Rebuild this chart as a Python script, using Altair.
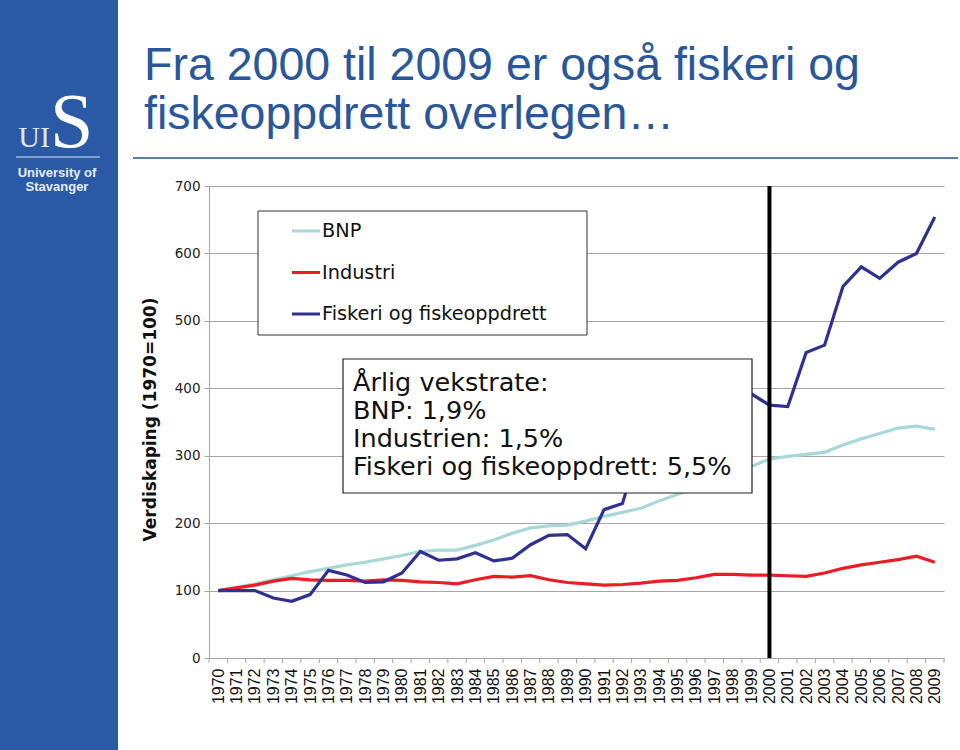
import altair as alt
import pandas as pd

# ---------------- data ----------------
years = list(range(1970, 2010))
bnp = [100, 105, 110, 116, 122, 128, 133, 138, 142, 147,
       152, 158, 160, 160, 167, 175, 185, 193, 196, 197,
       203, 210, 216, 222, 233, 243, 253, 263, 273, 284,
       295, 299, 302, 305, 316, 325, 333, 341, 344, 339]
industri = [100, 104, 108, 114, 118, 116, 115, 115, 114, 116,
            115, 113, 112, 110, 116, 121, 120, 122, 116, 112,
            110, 108, 109, 111, 114, 115, 119, 124, 124, 123,
            123, 122, 121, 126, 133, 138, 142, 146, 151, 142]
fiskeri = [100, 100, 100, 89, 84, 94, 130, 123, 112, 113,
           126, 158, 145, 147, 156, 144, 148, 168, 182, 183,
           162, 220, 229, 320, 350, 365, 380, 410, 420, 392,
           375, 373, 453, 464, 551, 580, 563, 587, 600, 654]
series_names = ["BNP", "Industri", "Fiskeri og fiskeoppdrett"]
series_colors = ["#a8d9d9", "#ec1c24", "#2e3192"]
y_ticks = [0, 100, 200, 300, 400, 500, 600, 700]
marker_year = [2000]
title_lines = ["Fra 2000 til 2009 er også fiskeri og", "fiskeoppdrett overlegen…"]
note_lines = ["Årlig vekstrate:", "BNP: 1,9%", "Industrien: 1,5%",
              "Fiskeri og fiskeoppdrett: 5,5%"]
y_title = "Verdiskaping (1970=100)"
logo_lines = ["University of", "Stavanger"]

# ---------------- layout helpers ----------------
W, H = 735, 472
L, T = 209, 186


def px(x):
    return x - L


def py(y):
    return y - T


frames = []
for name, vals in zip(series_names, [bnp, industri, fiskeri]):
    frames.append(pd.DataFrame({"year": years, "value": vals, "series": name}))
df = pd.concat(frames, ignore_index=True)

bounds = pd.DataFrame({"b": [y - 0.5 for y in years] + [years[-1] + 0.5]})

xs = alt.Scale(domain=[years[0] - 0.5, years[-1] + 0.5], nice=False, zero=False)
ys = alt.Scale(domain=[0, 700], nice=False)
cs = alt.Scale(domain=series_names, range=series_colors)

one = pd.DataFrame({"a": [0]})
GRAY = "#a6a6a6"

# axes carrier (grid + axes)
axes = alt.Chart(df).mark_line(opacity=0).encode(
    x=alt.X("year:Q", scale=xs,
            axis=alt.Axis(values=years, format="d", labelAngle=270, ticks=False,
                          grid=False, domainColor=GRAY, labelFont="Liberation Sans",
                          labelFontSize=16, labelColor="#111", labelPadding=10,
                          title=None, labelFlush=False, labelOverlap=False,
                          labelAlign="right", labelBaseline="middle")),
    y=alt.Y("value:Q", scale=ys,
            axis=alt.Axis(values=y_ticks, grid=True, gridColor=GRAY, tickColor=GRAY,
                          tickSize=5, domainColor=GRAY, labelFont="DejaVu Sans",
                          labelFontSize=13.5, labelColor="#222", labelPadding=4,
                          title=y_title, titleFont="DejaVu Sans", titleFontSize=17,
                          titleFontWeight="bold", titleColor="#111", titleX=-59,
                          titleY=H / 2 - 3, titleAlign="center", titleBaseline="middle",
                          titleAngle=270)),
)

ticks = alt.Chart(bounds).mark_rule(color=GRAY, strokeWidth=1).encode(
    x=alt.X("b:Q", scale=xs, axis=None), y=alt.value(H), y2=alt.value(H + 5))

lines = []
for name in series_names:
    lines.append(
        alt.Chart(df).transform_filter(alt.datum.series == name)
        .mark_line(strokeWidth=3.2)
        .encode(x=alt.X("year:Q", scale=xs, axis=None),
                y=alt.Y("value:Q", scale=ys, axis=None),
                color=alt.Color("series:N", scale=cs, legend=None)))

vline = alt.Chart(pd.DataFrame({"year": marker_year})).mark_rule(
    color="black", strokeWidth=4).encode(
    x=alt.X("year:Q", scale=xs, axis=None), y=alt.value(0), y2=alt.value(H))

# legend box
leg_box = alt.Chart(one).mark_rect(fill="white", stroke="#333", strokeWidth=1).encode(
    x=alt.value(px(258)), x2=alt.value(px(587)), y=alt.value(py(211)), y2=alt.value(py(335)))
leg_layers = []
for i, (name, col) in enumerate(zip(series_names, series_colors)):
    yy = py(231) + 41.5 * i
    leg_layers.append(alt.Chart(one).mark_rule(color=col, strokeWidth=3).encode(
        x=alt.value(px(292)), x2=alt.value(px(320)), y=alt.value(yy)))
    leg_layers.append(alt.Chart(pd.DataFrame({"t": [name]})).mark_text(
        align="left", baseline="middle", font="DejaVu Sans", fontSize=19.3,
        color="#111").encode(x=alt.value(px(322)), y=alt.value(yy), text="t:N"))

# note box
note_box = alt.Chart(one).mark_rect(fill="white", stroke="#222", strokeWidth=1.2).encode(
    x=alt.value(px(343)), x2=alt.value(px(752)), y=alt.value(py(359)), y2=alt.value(py(493)))
note_text = alt.Chart(one).mark_text(
    align="left", baseline="alphabetic", font="DejaVu Sans", fontSize=25.5,
    lineHeight=28, color="#111", text=note_lines).encode(
    x=alt.value(px(353)), y=alt.value(py(391)))

# slide decorations
sidebar = alt.Chart(one).mark_rect(color="#2a59a6").encode(
    x=alt.value(px(0)), x2=alt.value(px(118)), y=alt.value(py(0)), y2=alt.value(py(750)))
logo_ui = alt.Chart(pd.DataFrame({"t": ["UI"]})).mark_text(
    align="right", baseline="alphabetic", font="Liberation Serif", fontSize=30,
    color="#dfe8f5").encode(x=alt.value(px(50)), y=alt.value(py(147)), text="t:N")
logo_s = alt.Chart(pd.DataFrame({"t": ["S"]})).mark_text(
    align="left", baseline="alphabetic", font="Liberation Serif", fontSize=78,
    color="white").encode(x=alt.value(px(50)), y=alt.value(py(147)), text="t:N")
logo_rule = alt.Chart(one).mark_rule(color="#9db9de", strokeWidth=1.5).encode(
    x=alt.value(px(16)), x2=alt.value(px(100)), y=alt.value(py(157)))
logo_text = alt.Chart(one).mark_text(
    align="center", baseline="alphabetic", font="Liberation Sans", fontSize=13,
    fontWeight="bold", lineHeight=14, color="#e6edf7", text=logo_lines).encode(
    x=alt.value(px(57)), y=alt.value(py(177)))

title_text = alt.Chart(one).mark_text(
    align="left", baseline="alphabetic", font="Liberation Sans", fontSize=46.5,
    lineHeight=49, color="#2a579a", text=title_lines).encode(
    x=alt.value(px(144)), y=alt.value(py(80)))
sep = alt.Chart(one).mark_rule(color="#5b7ca8", strokeWidth=2).encode(
    x=alt.value(px(133)), x2=alt.value(px(958)), y=alt.value(py(158)))

chart = alt.layer(
    axes, ticks, *lines, vline, leg_box, *leg_layers, note_box, note_text,
    sidebar, logo_ui, logo_s, logo_rule, logo_text, title_text, sep
).resolve_axis(
    x="independent", y="independent"
).properties(
    width=W, height=H,
    padding={"left": L, "top": T, "right": 960 - L - W, "bottom": 750 - T - H},
    autosize=alt.AutoSizeParams(type="none"),
    background="white",
).configure_view(stroke=None)

chart.save("out.html", embed_options={"renderer": "svg", "actions": False})
